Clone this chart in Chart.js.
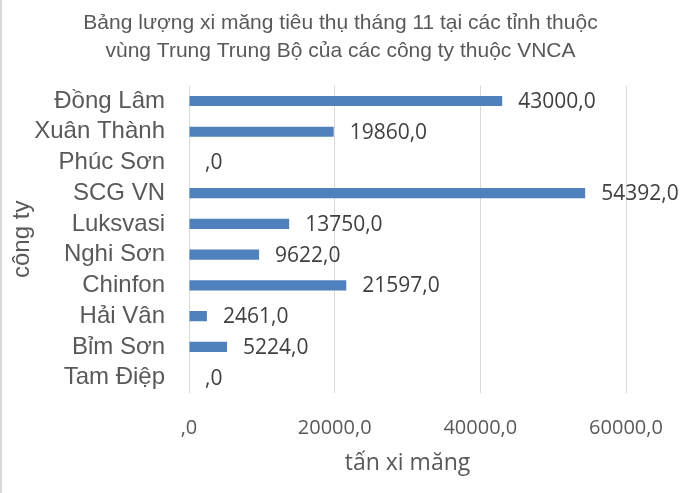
<!DOCTYPE html>
<html>
<head>
<meta charset="utf-8">
<script src="https://cdn.jsdelivr.net/npm/chart.js@4.4.1/dist/chart.umd.min.js"></script>
<style>
    html, body { margin: 0; padding: 0; background: #fff; }
    #wrap { width: 681px; height: 493px; position: relative; }
</style>
</head>
<body>
<div id="wrap"><canvas id="chart" width="681" height="493"></canvas></div>
<script>
// Dữ liệu lượng xi măng (tấn) theo công ty
const congTy = ['Đồng Lâm', 'Xuân Thành', 'Phúc Sơn', 'SCG VN', 'Luksvasi', 'Nghi Sơn', 'Chinfon', 'Hải Vân', 'Bỉm Sơn', 'Tam Điệp'];
const luongXiMang = [43000, 19860, 0, 54392, 13750, 9622, 21597, 2461, 5224, 0];
const tickMoc = [0, 20000, 40000, 60000];

const chuGrid = '#d9d9d9';
const mauChu = '#595959';

// Định dạng số kiểu Excel "#,0" (dấu phẩy thập phân)
function dinhDang(v) {
    if (v === 0) return ',0';
    return v.toFixed(1).replace('.', ',');
}

// Plugin vẽ nhãn giá trị sau mỗi thanh
const nhanGiaTri = {
    id: 'nhanGiaTri',
    afterDatasetsDraw(chart) {
        const ctx = chart.ctx;
        const meta = chart.getDatasetMeta(0);
        ctx.save();
        ctx.font = '21px "Open Sans"';
        ctx.fillStyle = '#404040';
        ctx.textAlign = 'left';
        ctx.textBaseline = 'middle';
        meta.data.forEach((bar, i) => {
            ctx.fillText(dinhDang(luongXiMang[i]), bar.x + 16, bar.y + 1);
        });
        ctx.restore();
    }
};

// Viền trái của khung biểu đồ
const vienKhung = {
    id: 'vienKhung',
    afterDraw(chart) {
        const ctx = chart.ctx;
        ctx.save();
        ctx.strokeStyle = '#d9d9d9';
        ctx.lineWidth = 2;
        ctx.beginPath();
        ctx.moveTo(1, 0);
        ctx.lineTo(1, chart.height);
        ctx.stroke();
        ctx.restore();
    }
};

const ctx = document.getElementById('chart').getContext('2d');
const bieuDo = new Chart(ctx, {
    type: 'bar',
    data: {
        labels: congTy,
        datasets: [{
            label: 'tấn xi măng',
            data: luongXiMang,
            backgroundColor: '#4f81bd',
            borderWidth: 0,
            categoryPercentage: 1,
            barPercentage: 0.33
        }]
    },
    options: {
        indexAxis: 'y',
        responsive: false,
        animation: false,
        layout: { padding: { top: 0, right: 0, bottom: 0, left: 0 } },
        plugins: {
            legend: { display: false },
            tooltip: { enabled: false },
            title: {
                display: true,
                text: ['Bảng lượng xi măng tiêu thụ tháng 11 tại các tỉnh thuộc', 'vùng Trung Trung Bộ của các công ty thuộc VNCA'],
                color: mauChu,
                font: { family: '"Liberation Sans", Arial', size: 21, weight: 'normal', lineHeight: 1.3 },
                padding: { top: 10, bottom: 21 }
            }
        },
        scales: {
            x: {
                min: 0,
                max: 60000,
                afterBuildTicks(scale) {
                    scale.ticks = tickMoc.map(v => ({ value: v }));
                },
                afterFit(scale) {
                    scale.height = 100;
                    scale.paddingRight = 55;
                },
                ticks: {
                    color: mauChu,
                    font: { family: '"Open Sans"', size: 20 },
                    padding: 23,
                    callback: v => dinhDang(v)
                },
                grid: { color: chuGrid, drawTicks: false },
                border: { display: false },
                title: {
                    display: true,
                    text: 'tấn xi măng',
                    color: mauChu,
                    font: { family: '"Open Sans"', size: 23 },
                    padding: { top: 0, bottom: 16 }
                }
            },
            y: {
                afterFit(scale) {
                    scale.width = 189;
                },
                ticks: {
                    color: mauChu,
                    font: { family: '"Liberation Sans", Arial', size: 24 },
                    padding: 24,
                    autoSkip: false
                },
                grid: { display: false, drawTicks: false },
                border: { display: false },
                title: {
                    display: true,
                    text: 'công ty',
                    color: mauChu,
                    font: { family: '"Liberation Sans", Arial', size: 24 },
                    padding: { top: 8, bottom: 0 }
                }
            }
        }
    },
    plugins: [nhanGiaTri, vienKhung]
});
</script>
</body>
</html>
